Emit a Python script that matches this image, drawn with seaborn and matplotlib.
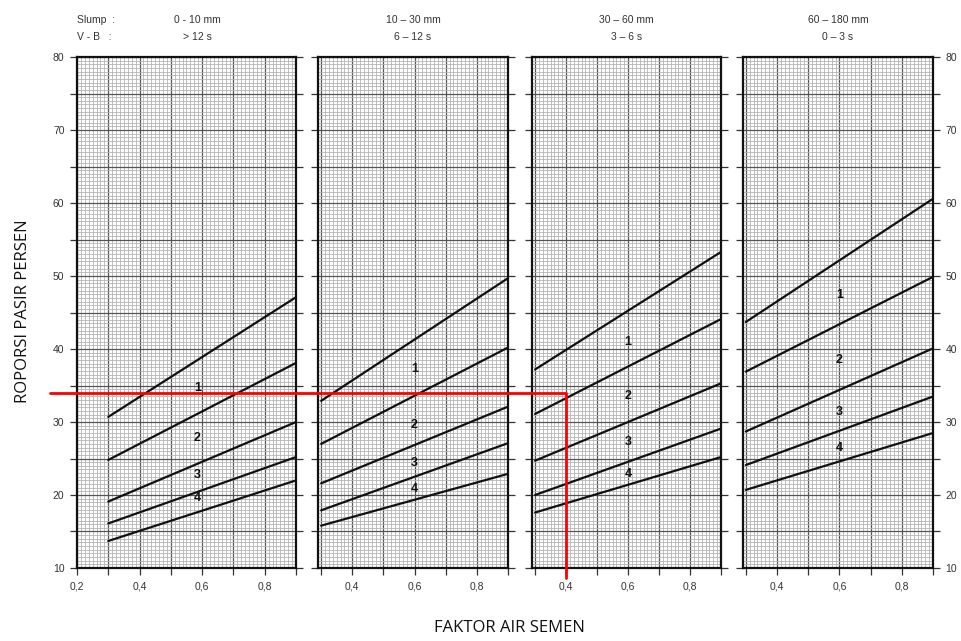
import matplotlib
matplotlib.use("Agg")
import pandas as pd
import seaborn as sns
import matplotlib.pyplot as plt
from matplotlib.ticker import MultipleLocator, FuncFormatter
from matplotlib.lines import Line2D

sns.set_theme(style="white")
plt.rcParams['font.family'] = ['Liberation Sans', 'DejaVu Sans']

# slump / V-B classes, one panel each
slump = ["0 - 10 mm", "10 – 30 mm", "30 – 60 mm", "60 – 180 mm"]
vebe = ["> 12 s", "6 – 12 s", "3 – 6 s", "0 – 3 s"]

# boundary curves (5 per panel), sand % at w/c = 0.3 and 0.9
x_start = [0.3, 0.3, 0.3, 0.3]
x_end = [0.9, 0.9, 0.9, 0.9]
p1_start = [30.7, 24.8, 19.1, 16.1, 13.7]
p1_end = [47.1, 38.1, 30.0, 25.2, 22.0]
p2_start = [32.9, 27.0, 21.6, 17.9, 15.8]
p2_end = [49.7, 40.2, 32.1, 27.1, 22.9]
p3_start = [37.2, 31.1, 24.7, 20.0, 17.6]
p3_end = [53.3, 44.1, 35.3, 29.1, 25.2]
p4_start = [43.7, 36.9, 28.7, 24.1, 20.7]
p4_end = [60.6, 49.9, 40.1, 33.5, 28.5]

# zone numbers 1..4 placed between curves
zone_x = [0.585, 0.6, 0.6, 0.6]
p1_zone_y = [34.7, 27.8, 22.7, 19.6]
p2_zone_y = [37.3, 29.6, 24.4, 20.8]
p3_zone_y = [40.9, 33.5, 27.3, 22.9]
p4_zone_y = [47.4, 38.5, 31.4, 26.4]

# worked example (red)
ex_wc = 0.4
ex_sand = 34

starts = [p1_start, p2_start, p3_start, p4_start]
ends = [p1_end, p2_end, p3_end, p4_end]
zones = [p1_zone_y, p2_zone_y, p3_zone_y, p4_zone_y]

rows = []
for p in range(4):
    for c in range(5):
        rows.append({"panel": p, "curve": c, "wc": x_start[p], "sand": starts[p][c]})
        rows.append({"panel": p, "curve": c, "wc": x_end[p], "sand": ends[p][c]})
df = pd.DataFrame(rows)

fig = plt.figure(figsize=(9.62, 6.41), dpi=100)
bounds = [(0.080, 0.3077), (0.3306, 0.528), (0.553, 0.7495), (0.772, 0.970)]
xlims = [(0.2, 0.9), (0.29, 0.9), (0.29, 0.9), (0.29, 0.9)]
bottom, top = 0.1139, 0.911


def fmt_x(v, pos):
    k = int(round(v * 10))
    if abs(v * 10 - k) < 1e-6 and k % 2 == 0:
        return f"{v:.1f}".replace(".", ",")
    return ""


def fmt_y(v, pos):
    return f"{int(round(v))}" if int(round(v)) % 10 == 0 else ""


axes = []
for p in range(4):
    l, r = bounds[p]
    ax = fig.add_axes([l, bottom, r - l, top - bottom])
    axes.append(ax)
    ax.set_xlim(*xlims[p])
    ax.set_ylim(10, 80)

    # graph-paper grid
    ax.xaxis.set_major_locator(MultipleLocator(0.1))
    ax.xaxis.set_minor_locator(MultipleLocator(0.0125))
    ax.yaxis.set_major_locator(MultipleLocator(5))
    ax.yaxis.set_minor_locator(MultipleLocator(0.5))
    ax.grid(which="minor", color="#b4b4b4", lw=0.6)
    ax.grid(which="major", color="#555555", lw=0.9)
    ax.set_axisbelow(True)

    sub = df[df["panel"] == p]
    sns.lineplot(data=sub, x="wc", y="sand", units="curve", estimator=None,
                 color="#111111", lw=1.6, ax=ax, legend=False)

    for i, zy in enumerate(zones[p]):
        ax.text(zone_x[p], zy, str(i + 1), ha="center", va="center",
                fontsize=9, fontweight="bold", color="#111111")

    for s in ax.spines.values():
        s.set_color("#111111")
        s.set_linewidth(1.6)
        s.set_visible(True)

    ax.tick_params(which="major", direction="out", length=5, width=0.9,
                   color="#333333", labelsize=7.5, labelcolor="#333333",
                   left=True, right=True, bottom=True, top=False, pad=4)
    ax.tick_params(axis="x", pad=5)
    ax.tick_params(which="minor", length=0)

    ax.xaxis.set_major_formatter(FuncFormatter(fmt_x))
    ax.yaxis.set_major_formatter(FuncFormatter(fmt_y))
    ax.tick_params(axis="y", labelleft=(p == 0), labelright=(p == 3))
    ax.set_xlabel("")
    ax.set_ylabel("")

    ax.text(0.5, 1.03, slump[p] + "\n" + vebe[p], transform=ax.transAxes,
            ha="center", va="bottom", fontsize=7.5, color="#333333",
            linespacing=1.8)

axes[0].texts[-1].set_x(0.55)
axes[0].text(0.0, 1.03, "Slump  :\nV - B   :", transform=axes[0].transAxes,
             ha="left", va="bottom", fontsize=7.5, color="#333333", linespacing=1.8)

fig.text(0.024, 0.515, "ROPORSI PASIR PERSEN", rotation=90, ha="center",
         va="center", fontsize=12, color="#111111", family=["Open Sans", "DejaVu Sans"])
fig.text(0.53, 0.02, "FAKTOR AIR SEMEN", ha="center", va="center",
         fontsize=12, color="#111111", family=["Open Sans", "DejaVu Sans"])

# red example line drawn across panels in figure coords
to_fig = fig.transFigure.inverted()
left_pt = to_fig.transform(axes[0].transData.transform((0.113, ex_sand)))
corner = to_fig.transform(axes[2].transData.transform((ex_wc, ex_sand)))
low_pt = to_fig.transform(axes[2].transData.transform((ex_wc, 8.6)))
fig.add_artist(Line2D([left_pt[0], corner[0], low_pt[0]],
                      [left_pt[1], corner[1], low_pt[1]],
                      color="#ff0000", lw=2, transform=fig.transFigure))

fig.savefig("out.png", dpi=100, facecolor="white")
